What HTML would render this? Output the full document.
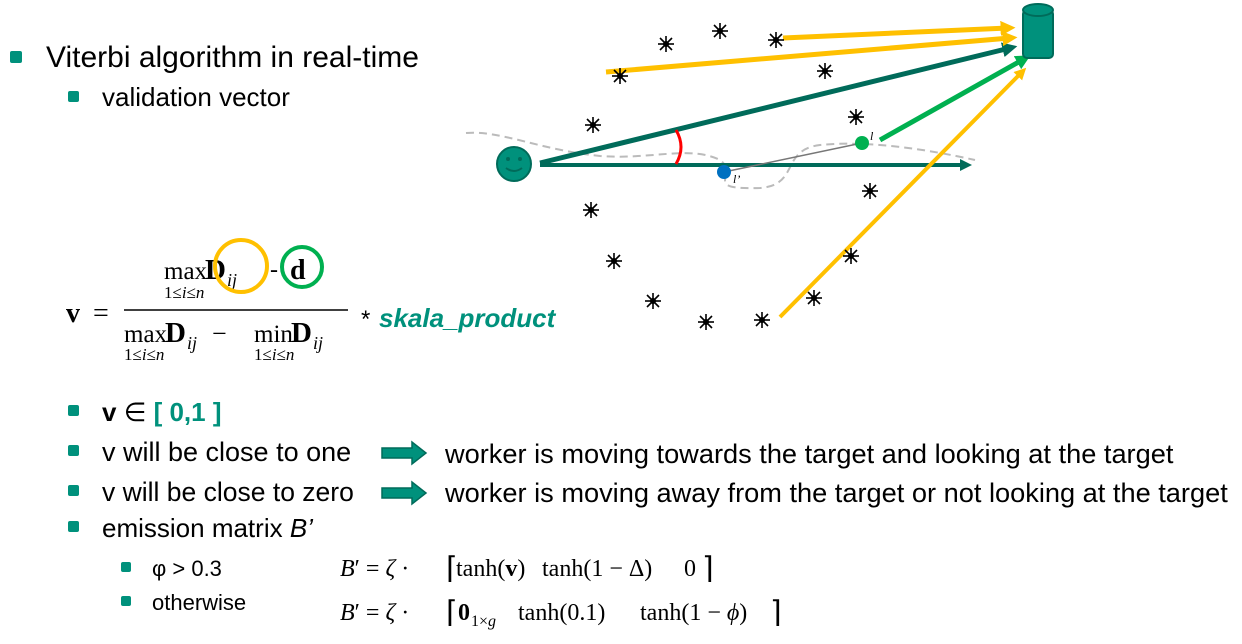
<!DOCTYPE html>
<html><head><meta charset="utf-8"><style>
html,body{margin:0;padding:0;background:#fff;}
svg{display:block;}
.s{font-family:"Liberation Sans",sans-serif;fill:#000;}
.m{font-family:"Liberation Serif",serif;fill:#000;}
</style></head><body>
<svg width="1242" height="644" viewBox="0 0 1242 644">
<defs>
<marker id="ah" markerWidth="3" markerHeight="3" refX="1.5" refY="1.5" orient="auto" markerUnits="strokeWidth"><path d="M0,0 L3,1.5 L0,3 z" fill="context-stroke"/></marker>
<g id="star"><g stroke="#000" stroke-width="1.6"><line x1="-8" y1="0" x2="8" y2="0"/><line x1="0" y1="-8" x2="0" y2="8"/><line x1="-6" y1="-6" x2="6" y2="6"/><line x1="-6" y1="6" x2="6" y2="-6"/></g><circle r="3" fill="#000"/></g>
</defs>
<rect x="10" y="51" width="12" height="12" fill="#00917c" rx="2"/>
<text class="s" x="46" y="67" font-size="30">Viterbi algorithm in real-time</text>
<rect x="68" y="91" width="11" height="11" fill="#00917c" rx="2"/>
<text class="s" x="102" y="106" font-size="26">validation vector</text>

<g>
<text class="m" x="66" y="322" font-size="28" font-weight="bold">v</text>
<text class="m" x="93" y="322" font-size="28">=</text>
<text class="m" x="164" y="279" font-size="25">max</text>
<text class="m" x="205" y="279" font-size="29" font-weight="bold">D</text>
<text class="m" x="227" y="286" font-size="18" font-style="italic">ij</text>
<text class="m" x="164" y="298" font-size="17">1≤<tspan font-style="italic">i</tspan>≤<tspan font-style="italic">n</tspan></text>
<text class="m" x="270" y="277" font-size="24">-</text>
<text class="m" x="290" y="279" font-size="28" font-weight="bold">d</text>
<circle cx="241" cy="266" r="26" fill="none" stroke="#ffc000" stroke-width="4"/>
<circle cx="302" cy="267" r="20" fill="none" stroke="#00b050" stroke-width="4"/>
<line x1="124" y1="310" x2="348" y2="310" stroke="#000" stroke-width="1.5"/>
<text class="m" x="124" y="342" font-size="25">max</text>
<text class="m" x="165" y="342" font-size="29" font-weight="bold">D</text>
<text class="m" x="187" y="349" font-size="18" font-style="italic">ij</text>
<text class="m" x="212" y="342" font-size="26">−</text>
<text class="m" x="124" y="360" font-size="17">1≤<tspan font-style="italic">i</tspan>≤<tspan font-style="italic">n</tspan></text>
<text class="m" x="254" y="342" font-size="25">min</text>
<text class="m" x="291" y="342" font-size="29" font-weight="bold">D</text>
<text class="m" x="313" y="349" font-size="18" font-style="italic">ij</text>
<text class="m" x="254" y="360" font-size="17">1≤<tspan font-style="italic">i</tspan>≤<tspan font-style="italic">n</tspan></text>
<text class="s" x="361" y="327" font-size="24">*</text>
<text class="s" x="379" y="327" font-size="26" font-weight="bold" font-style="italic" style="fill:#00917c">skala_product</text>
</g>

<rect x="68" y="405" width="11" height="11" fill="#00917c" rx="2"/>
<text class="s" x="102" y="421" font-size="26"><tspan font-weight="bold">v</tspan> ∈ <tspan font-weight="bold" style="fill:#00917c">[ 0,1 ]</tspan></text>
<rect x="68" y="445" width="11" height="11" fill="#00917c" rx="2"/>
<text class="s" x="102" y="461" font-size="27">v will be close to one</text>
<rect x="68" y="485" width="11" height="11" fill="#00917c" rx="2"/>
<text class="s" x="102" y="501" font-size="26.5">v will be close to zero</text>
<rect x="68" y="521" width="11" height="11" fill="#00917c" rx="2"/>
<text class="s" x="102" y="537" font-size="26">emission matrix <tspan font-style="italic">B’</tspan></text>
<rect x="121" y="562" width="10" height="10" fill="#00917c" rx="2"/>
<text class="s" x="152" y="576" font-size="22">φ &gt; 0.3</text>
<rect x="121" y="596" width="10" height="10" fill="#00917c" rx="2"/>
<text class="s" x="152" y="610" font-size="22">otherwise</text>

<g><path d="M382,448 L412,448 L412,442 L426,453 L412,464 L412,458 L382,458 z" fill="#00917c" stroke="#006b5a" stroke-width="1.5"/></g>
<g><path d="M382,488 L412,488 L412,482 L426,493 L412,504 L412,498 L382,498 z" fill="#00917c" stroke="#006b5a" stroke-width="1.5"/></g>
<text class="s" x="445" y="463" font-size="27.2">worker is moving towards the target and looking at the target</text>
<text class="s" x="445" y="502" font-size="27.2">worker is moving away from the target or not looking at the target</text>

<g>
<text class="m" x="340" y="576" font-size="24"><tspan font-style="italic">B</tspan>′ = <tspan font-style="italic">ζ</tspan> ·</text>
<text class="m" x="446" y="578" font-size="30">⌈</text>
<text class="m" x="456" y="576" font-size="24">tanh(<tspan font-weight="bold">v</tspan>)</text>
<text class="m" x="542" y="576" font-size="24">tanh(1 − Δ)</text>
<text class="m" x="684" y="576" font-size="24">0</text>
<text class="m" x="702" y="578" font-size="30">⌉</text>
</g>
<g>
<text class="m" x="340" y="620" font-size="24"><tspan font-style="italic">B</tspan>′ = <tspan font-style="italic">ζ</tspan> ·</text>
<text class="m" x="446" y="622" font-size="30">⌈</text>
<text class="m" x="458" y="620" font-size="24" font-weight="bold">0</text>
<text class="m" x="471" y="626" font-size="16">1×<tspan font-style="italic">g</tspan></text>
<text class="m" x="518" y="620" font-size="24">tanh(0.1)</text>
<text class="m" x="640" y="620" font-size="24">tanh(1 − <tspan font-style="italic">ϕ</tspan>)</text>
<text class="m" x="770" y="622" font-size="30">⌉</text>
</g>

<g>
<path d="M466,133 C500,130 540,150 600,156 C650,160 690,145 720,160 C740,175 700,190 760,188 C800,185 780,150 820,145 C870,140 930,150 975,160" fill="none" stroke="#bbb" stroke-width="2" stroke-dasharray="8,5"/>
<line x1="540" y1="165" x2="966" y2="165" stroke="#006b5a" stroke-width="4" marker-end="url(#ah)"/>
<line x1="540" y1="163" x2="1010" y2="48" stroke="#006b5a" stroke-width="5" marker-end="url(#ah)"/>
<line x1="783" y1="38" x2="1008" y2="28" stroke="#ffc000" stroke-width="5" marker-end="url(#ah)"/>
<line x1="606" y1="72" x2="1010" y2="38" stroke="#ffc000" stroke-width="5" marker-end="url(#ah)"/>
<line x1="880" y1="140" x2="1024" y2="59" stroke="#00b050" stroke-width="5" marker-end="url(#ah)"/>
<line x1="780" y1="317" x2="1022" y2="72" stroke="#ffc000" stroke-width="4" marker-end="url(#ah)"/>
<path d="M676,130 Q686,147 676,164" fill="none" stroke="#ff0000" stroke-width="3"/>
<line x1="724" y1="172" x2="862" y2="143" stroke="#777" stroke-width="1.5"/>
<circle cx="724" cy="172" r="7" fill="#0070c0"/>
<circle cx="862" cy="143" r="7" fill="#00b050"/>
<text class="m" x="733" y="183" font-size="12" font-style="italic">l’</text>
<text class="m" x="870" y="140" font-size="12" font-style="italic">l</text>
<circle cx="514" cy="164" r="17" fill="#00917c" stroke="#006b5a" stroke-width="2"/>
<circle cx="508" cy="159" r="2" fill="#006b5a"/><circle cx="520" cy="159" r="2" fill="#006b5a"/>
<path d="M506,168 Q514,174 522,168" fill="none" stroke="#006b5a" stroke-width="2"/>
<rect x="1023" y="10" width="30" height="48" fill="#00917c" stroke="#006b5a" stroke-width="2" rx="4"/><ellipse cx="1038" cy="10" rx="15" ry="6" fill="#00917c" stroke="#006b5a" stroke-width="2"/>
<use href="#star" x="666" y="44"/><use href="#star" x="720" y="31"/><use href="#star" x="776" y="40"/>
<use href="#star" x="620" y="76"/><use href="#star" x="825" y="71"/><use href="#star" x="593" y="125"/>
<use href="#star" x="856" y="117"/><use href="#star" x="870" y="191"/><use href="#star" x="591" y="210"/>
<use href="#star" x="614" y="261"/><use href="#star" x="851" y="256"/><use href="#star" x="653" y="301"/>
<use href="#star" x="814" y="298"/><use href="#star" x="706" y="322"/><use href="#star" x="762" y="320"/>
</g>
</svg>
</body></html>
